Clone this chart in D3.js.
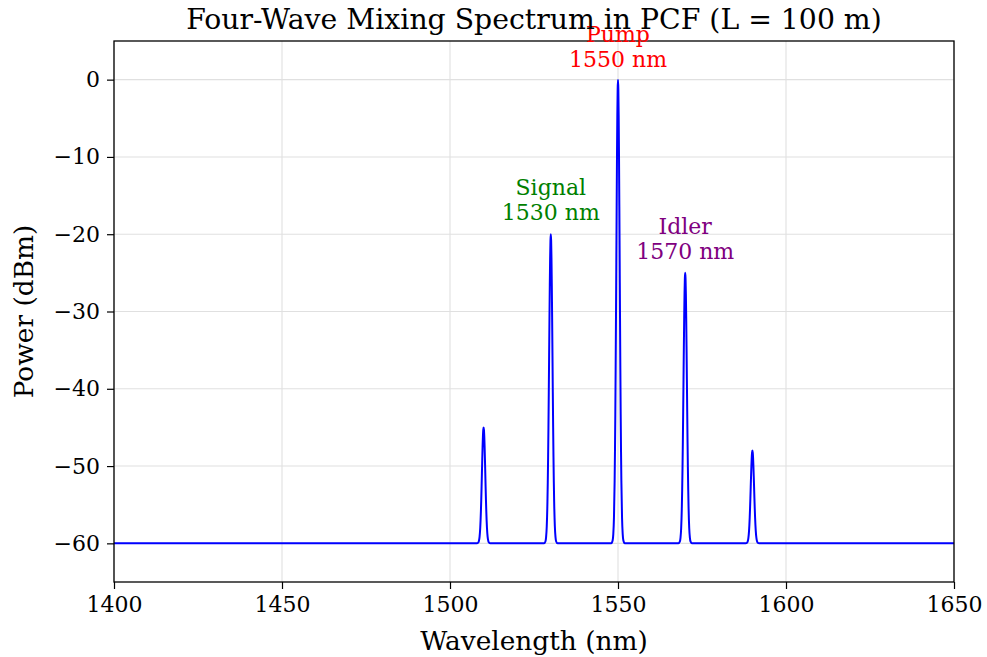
<!DOCTYPE html>
<html>
<head>
<meta charset="utf-8">
<script src="https://cdn.jsdelivr.net/npm/d3@7"></script>
<style>
  body { margin: 0; background: #fff; }
  svg text { font-family: "DejaVu Serif", serif; }
</style>
</head>
<body>
<div id="chart"></div>
<script>
// valeurs
const peakWavelengths = [1510, 1530, 1550, 1570, 1590];
const peakPowers = [-45, -20, 0, -25, -48];
const floorPower = -60;
const wavelengthRange = [1400, 1650];

// forme d'un pic : ecart (nm) et fraction de la hauteur au-dessus du plancher
const profileOffsets = [-2.0, -1.6, -1.4, -1.2, -1.0, -0.9, -0.8, -0.7, -0.6, -0.5, -0.4, -0.3, -0.2, -0.1, 0,
                        0.1, 0.2, 0.3, 0.4, 0.5, 0.6, 0.7, 0.8, 0.9, 1.0, 1.2, 1.4, 1.6, 2.0];
const profileLevels = [0, 0.006, 0.02, 0.056, 0.135, 0.198, 0.278, 0.375, 0.487, 0.607, 0.726, 0.835, 0.923, 0.98, 1,
                       0.98, 0.923, 0.835, 0.726, 0.607, 0.487, 0.375, 0.278, 0.198, 0.135, 0.056, 0.02, 0.006, 0];

const xTicks = [1400, 1450, 1500, 1550, 1600, 1650];
const yTicks = [-60, -50, -40, -30, -20, -10, 0];

// annotations
const labelLines = [["Pump", "1550 nm"], ["Signal", "1530 nm"], ["Idler", "1570 nm"]];
const labelX = [1550, 1530, 1570];
const labelY = [1.7, -18.2, -23.2]; // ligne de base de la derniere ligne
const labelColors = ["#ff0000", "#008000", "#800080"];

const W = 987, H = 657;
const margin = {left: 114, top: 41, right: 33, bottom: 75};
const iw = W - margin.left - margin.right;
const ih = H - margin.top - margin.bottom;

const svg = d3.select("#chart").append("svg").attr("width", W).attr("height", H);

const x = d3.scaleLinear().domain(wavelengthRange).range([0, iw]);
const y = d3.scaleLinear().domain([-65, 5]).range([ih, 0]);

const g = svg.append("g").attr("transform", `translate(${margin.left},${margin.top})`);

// grille
g.append("g").selectAll("line").data(xTicks).join("line")
  .attr("x1", d => x(d)).attr("x2", d => x(d)).attr("y1", 0).attr("y2", ih)
  .attr("stroke", "#e0e0e0").attr("stroke-width", 1.1);
g.append("g").selectAll("line").data(yTicks).join("line")
  .attr("y1", d => y(d)).attr("y2", d => y(d)).attr("x1", 0).attr("x2", iw)
  .attr("stroke", "#e0e0e0").attr("stroke-width", 1.1);

// construction du spectre
let pts = [[wavelengthRange[0], floorPower]];
peakWavelengths.forEach((c, i) => {
  profileOffsets.forEach((o, j) => {
    pts.push([c + o, floorPower + profileLevels[j] * (peakPowers[i] - floorPower)]);
  });
});
pts.push([wavelengthRange[1], floorPower]);

g.append("path").datum(pts)
  .attr("fill", "none").attr("stroke", "#0000ff").attr("stroke-width", 2)
  .attr("stroke-linejoin", "round")
  .attr("d", d3.line().x(d => x(d[0])).y(d => y(d[1])).curve(d3.curveMonotoneX));

// axes
const fmt = d => (d < 0 ? "\u2212" + Math.abs(d) : "" + d);
const xAxis = g.append("g").attr("transform", `translate(0,${ih})`)
  .call(d3.axisBottom(x).tickValues(xTicks).tickSize(7).tickPadding(7).tickFormat(fmt));
const yAxis = g.append("g")
  .call(d3.axisLeft(y).tickValues(yTicks).tickSize(7).tickPadding(7).tickFormat(fmt));
[xAxis, yAxis].forEach(a => {
  a.select(".domain").remove();
  a.selectAll("line").attr("stroke", "#000").attr("stroke-width", 1.2);
  a.selectAll("text").attr("font-size", 22).attr("fill", "#000")
    .attr("font-family", "DejaVu Serif");
});

// cadre
g.append("rect").attr("width", iw).attr("height", ih)
  .attr("fill", "none").attr("stroke", "#000").attr("stroke-width", 1.3);

// annotations
labelLines.forEach((lines, i) => {
  const t = g.append("text").attr("text-anchor", "middle").attr("fill", labelColors[i])
    .attr("font-size", 22);
  lines.forEach((s, k) => {
    t.append("tspan").attr("x", x(labelX[i]))
      .attr("y", y(labelY[i]) - (lines.length - 1 - k) * 25).text(s);
  });
});

// titres
svg.append("text").attr("x", margin.left + iw / 2).attr("y", 29)
  .attr("text-anchor", "middle").attr("font-size", 28.3)
  .text("Four-Wave Mixing Spectrum in PCF (L = 100 m)");
svg.append("text").attr("x", margin.left + iw / 2).attr("y", 650)
  .attr("text-anchor", "middle").attr("font-size", 26.4)
  .text("Wavelength (nm)");
svg.append("text").attr("transform", `translate(33,${margin.top + ih / 2}) rotate(-90)`)
  .attr("text-anchor", "middle").attr("font-size", 26.4)
  .text("Power (dBm)");
</script>
</body>
</html>
